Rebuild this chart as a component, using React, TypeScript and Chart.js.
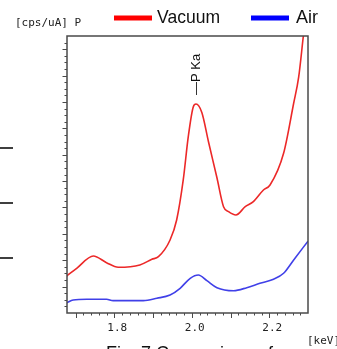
import React, { useEffect, useRef } from "react";
import { Chart, registerables } from "chart.js";

Chart.register(...registerables);

// ---- data ----
const vacuumKeV = [1.677, 1.703, 1.746, 1.78, 1.81, 1.866, 1.897, 1.914, 1.944, 1.961, 1.978, 1.991, 2.004, 2.011, 2.026, 2.043, 2.065, 2.082, 2.095, 2.114, 2.138, 2.159, 2.185, 2.202, 2.237, 2.263, 2.276, 2.288, 2.3];
const vacuumCps = [5.61, 6.78, 8.64, 7.63, 6.93, 7.28, 8.14, 8.54, 11.07, 14.1, 20.17, 26.73, 31.28, 31.69, 30.4, 26.0, 20.5, 16.12, 15.36, 14.86, 16.12, 16.88, 18.65, 19.41, 24.21, 31.8, 35.8, 42.0, 48.0];
const airKeV = [1.677, 1.694, 1.729, 1.78, 1.797, 1.875, 1.91, 1.944, 1.97, 1.996, 2.017, 2.039, 2.065, 2.108, 2.142, 2.176, 2.211, 2.237, 2.263, 2.3];
const airCps = [1.56, 1.97, 2.08, 2.08, 1.87, 1.87, 2.23, 2.73, 3.75, 5.26, 5.76, 4.9, 3.84, 3.38, 3.84, 4.5, 5.11, 6.02, 8.04, 10.9];

const seriesNames = ["Vacuum", "Air"];
const xRange = [1.678, 2.3];
const yRange = [0, 42];
const xLabelValues = [1.8, 2.0, 2.2];
const xLabelTexts = ["1.8", "2.0", "2.2"];
const xMajorTicks = [1.7, 1.8, 1.9, 2.0, 2.1, 2.2, 2.3];
const xMinorTicks = [1.72, 1.74, 1.76, 1.78, 1.82, 1.84, 1.86, 1.88, 1.92, 1.94, 1.96, 1.98, 2.02, 2.04, 2.06, 2.08, 2.12, 2.14, 2.16, 2.18, 2.22, 2.24, 2.26, 2.28];
const yMajorTicks = [4, 8, 12, 16, 20, 24, 28, 32, 36, 40];
const yMinorTicks = [1, 2, 3, 5, 6, 7, 9, 10, 11, 13, 14, 15, 17, 18, 19, 21, 22, 23, 25, 26, 27, 29, 30, 31, 33, 34, 35, 37, 38, 39, 41];
const peakLabel = "\u2014P Ka";
const peakKeV = 2.013;
const yUnitLabel = "[cps/uA] P";
const xUnitLabel = "[keV]";
const captionText = "Fig. 7 Comparison of";

const RED = "rgb(236,40,40)";
const BLUE = "rgb(64,64,232)";
const FRAME = "#4a4a4a";

const overlayPlugin = {
  id: "overlay",
  afterDraw(chart: any) {
    const ctx = chart.ctx as CanvasRenderingContext2D;
    const { left, right, top, bottom } = chart.chartArea;
    const xs = chart.scales.x;
    const ys = chart.scales.y;
    ctx.save();

    // frame
    ctx.strokeStyle = FRAME;
    ctx.lineWidth = 1.5;
    ctx.strokeRect(left, top, right - left, bottom - top);

    // x ticks
    ctx.lineWidth = 1;
    ctx.beginPath();
    for (const v of xMajorTicks) {
      const px = Math.round(xs.getPixelForValue(v)) + 0.5;
      if (px < left + 2 || px > right - 2) continue;
      ctx.moveTo(px, bottom);
      ctx.lineTo(px, bottom + 5);
    }
    for (const v of xMinorTicks) {
      const px = Math.round(xs.getPixelForValue(v)) + 0.5;
      if (px < left + 2 || px > right - 2) continue;
      ctx.moveTo(px, bottom);
      ctx.lineTo(px, bottom + 2.5);
    }
    // y ticks
    for (const v of yMajorTicks) {
      const py = Math.round(ys.getPixelForValue(v)) + 0.5;
      if (py < top + 2 || py > bottom - 2) continue;
      ctx.moveTo(left, py);
      ctx.lineTo(left - 4.5, py);
    }
    for (const v of yMinorTicks) {
      const py = Math.round(ys.getPixelForValue(v)) + 0.5;
      if (py < top + 2 || py > bottom - 2) continue;
      ctx.moveTo(left, py);
      ctx.lineTo(left - 2.5, py);
    }
    ctx.stroke();

    // x tick labels
    ctx.fillStyle = "#222";
    ctx.font = "11px 'DejaVu Sans Mono'";
    ctx.textAlign = "center";
    ctx.textBaseline = "middle";
    xLabelValues.forEach((v, i) => {
      ctx.fillText(xLabelTexts[i], xs.getPixelForValue(v) + 3, 328);
    });

    // unit labels
    ctx.textAlign = "left";
    ctx.fillText(xUnitLabel, 307, 341);
    ctx.fillText(yUnitLabel, 15, 23);

    // legend
    ctx.fillStyle = "#ff0000";
    ctx.fillRect(114, 15.5, 38, 5);
    ctx.fillStyle = "#0000ff";
    ctx.fillRect(251, 15.5, 38, 5);
    ctx.fillStyle = "#111";
    ctx.font = "19px 'Liberation Sans'";
    ctx.textBaseline = "alphabetic";
    ctx.fillText(seriesNames[0], 157, 22.5, 63);
    ctx.fillText(seriesNames[1], 296, 22.5, 22);

    // peak annotation
    ctx.save();
    ctx.translate(xs.getPixelForValue(peakKeV), 95);
    ctx.rotate(-Math.PI / 2);
    ctx.font = "13px 'Liberation Sans'";
    ctx.textAlign = "left";
    ctx.textBaseline = "middle";
    ctx.fillText(peakLabel, 0, 0);
    ctx.restore();

    // side rule lines (from surrounding table)
    ctx.strokeStyle = "#000";
    ctx.lineWidth = 1.5;
    ctx.beginPath();
    for (const y of [148, 203, 258]) {
      ctx.moveTo(0, y);
      ctx.lineTo(13, y);
    }
    ctx.stroke();

    // caption (cut off at the bottom)
    ctx.fillStyle = "#111";
    ctx.font = "18px 'Liberation Sans'";
    ctx.textAlign = "left";
    ctx.textBaseline = "alphabetic";
    ctx.fillText(captionText, 106, 358.5, 185);

    ctx.restore();
  },
};

export default function App() {
  const ref = useRef<HTMLCanvasElement>(null);
  useEffect(() => {
    if (!ref.current) return;
    const chart = new Chart(ref.current, {
      type: "line",
      data: {
        datasets: [
          {
            label: seriesNames[0],
            data: vacuumKeV.map((x, i) => ({ x, y: vacuumCps[i] })),
            borderColor: RED,
            borderWidth: 1.6,
            pointRadius: 0,
            cubicInterpolationMode: "monotone",
            fill: false,
          },
          {
            label: seriesNames[1],
            data: airKeV.map((x, i) => ({ x, y: airCps[i] })),
            borderColor: BLUE,
            borderWidth: 1.6,
            pointRadius: 0,
            cubicInterpolationMode: "monotone",
            fill: false,
          },
        ],
      },
      options: {
        responsive: false,
        animation: false,
        devicePixelRatio: 1,
        layout: { padding: { left: 67, top: 36, right: 29, bottom: 36 } },
        plugins: { legend: { display: false }, tooltip: { enabled: false } },
        scales: {
          x: { type: "linear", min: xRange[0], max: xRange[1], display: false },
          y: { type: "linear", min: yRange[0], max: yRange[1], display: false },
        },
      },
      plugins: [overlayPlugin],
    });
    return () => chart.destroy();
  }, []);
  return (
    <div style={{ position: "absolute", left: 0, top: 0, width: 337, height: 349, overflow: "hidden", background: "#fff" }}>
      <canvas ref={ref} width={337} height={349} style={{ display: "block" }} />
    </div>
  );
}
